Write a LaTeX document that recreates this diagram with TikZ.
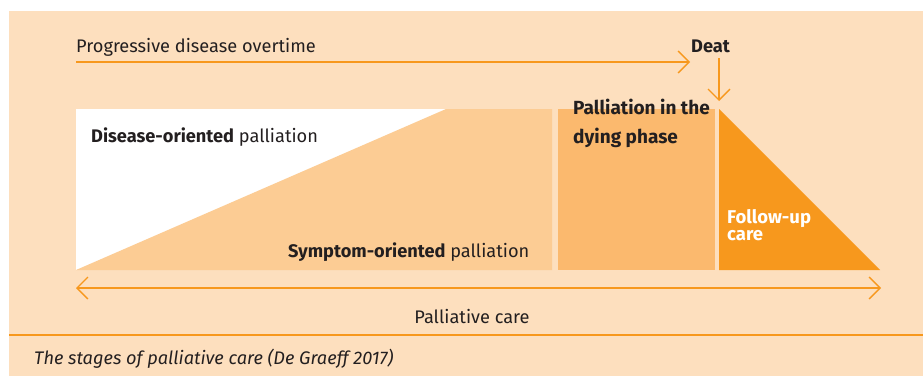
\documentclass[tikz,border=0pt]{standalone}
\usepackage{fontspec}
\setmainfont{Fira Sans}
\usetikzlibrary{arrows.meta}

\definecolor{peach}{RGB}{253,223,190}
\definecolor{symptom}{RGB}{252,204,148}
\definecolor{dying}{RGB}{251,185,110}
\definecolor{careorange}{RGB}{247,152,29}
\definecolor{textdark}{RGB}{35,31,32}

\tikzset{
	barb/.style={draw=careorange,line width=1.3pt,-{Straight Barb[length=11pt,width=22pt]}},
	twobarb/.style={barb,{Straight Barb[length=11pt,width=22pt]}-{Straight Barb[length=11pt,width=22pt]}},
	lbl/.style={text=textdark,font=\fontsize{18.2}{20}\selectfont,inner sep=0pt,anchor=base west},
}

\begin{document}
\begin{tikzpicture}[x=1pt,y=-1pt]
	\useasboundingbox (0,0) rectangle (923,376);
	\fill[peach] (9,11) rectangle (923,376);
	%\draw[help lines] (0,0) grid[step=50] (923,376);
	% the stages
	\fill[white] (76,109) rectangle (552,270);
	\fill[symptom] (76,270) -- (446,109) -- (552,109) -- (552,270) -- cycle;
	\fill[dying] (558,109) rectangle (715,270);
	\fill[careorange] (719,109) -- (719,270) -- (880,270) -- cycle;
	% texts
	\node[lbl] (progress) at (76,52) {Progressive disease overtime};
	\node[lbl,font=\fontsize{18.2}{20}\selectfont\bfseries] (deat) at (691,52) {Deat};
	\node[lbl] (disease) at (91,142) {\textbf{Disease-oriented} palliation};
	\node[lbl] (symptomtext) at (288,257) {\textbf{Symptom-oriented} palliation};
	\node[lbl,font=\fontsize{19}{29}\selectfont\bfseries,align=left] (dyingtext) at (573,143) {Palliation in the\\dying phase};
	\node[lbl,text=white,font=\fontsize{18.5}{17}\selectfont\bfseries,align=left] (followup) at (727,240) {Follow-up\\care};
	\node[lbl,anchor=base] (palliative) at (472,323) {Palliative care};
	\node[lbl,font=\fontsize{18.2}{20}\selectfont\itshape] (caption) at (34,364) {The stages of palliative care (De Graeff 2017)};
	% arrows
	\coordinate (timeL) at (76,62);
	\coordinate (timeR) at (690,62);
	\coordinate (deatTop) at (719,58);
	\coordinate (deatBot) at (719,101);
	\coordinate (careL) at (76,288);
	\coordinate (careR) at (881,288);
	\coordinate (sepL) at (9,335);
	\coordinate (sepR) at (923,335);
	\draw[barb] (timeL) -- (timeR);
	\draw[barb] (deatTop) -- (deatBot);
	\draw[twobarb] (careL) -- (careR);
	\draw[careorange,line width=1.3pt] (sepL) -- (sepR);
\end{tikzpicture}
\end{document}
